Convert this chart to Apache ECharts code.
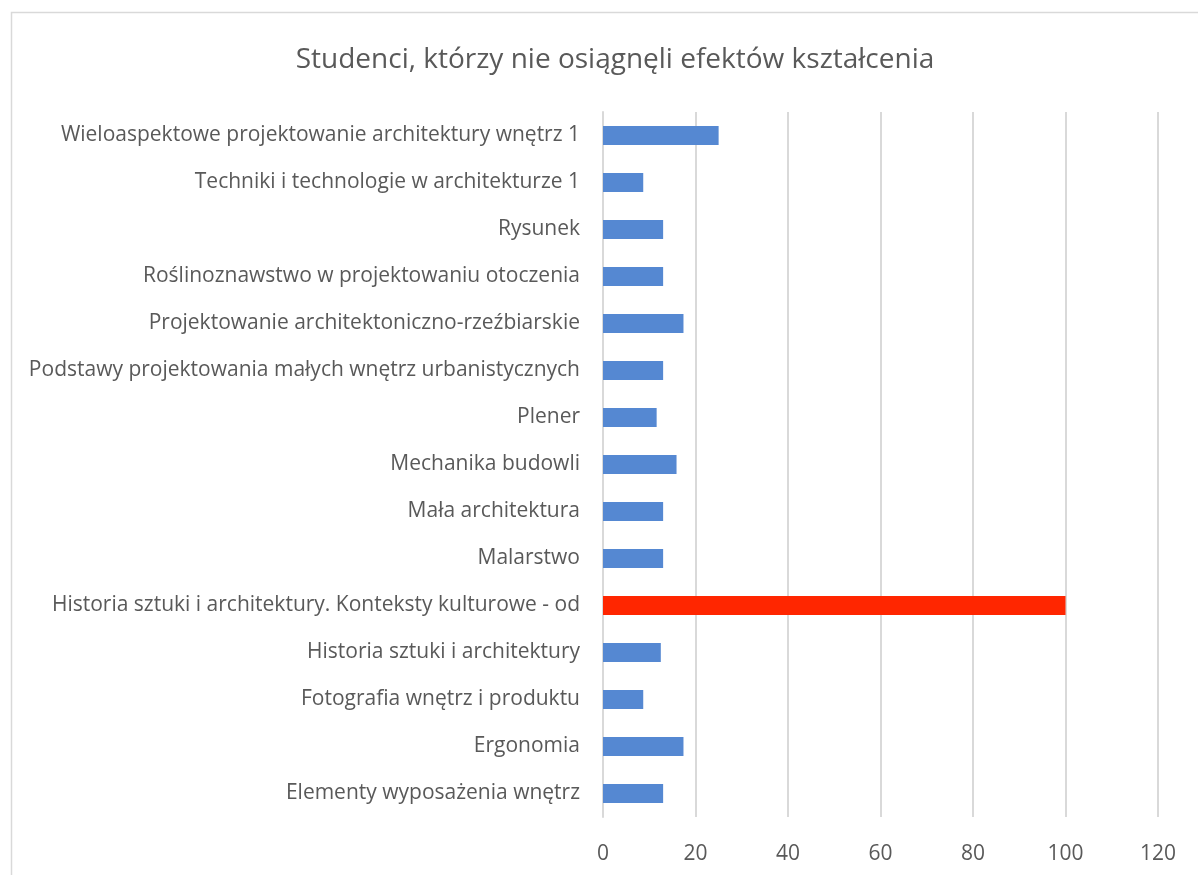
<!DOCTYPE html>
<html>
<head>
<meta charset="utf-8">
<script src="https://cdn.jsdelivr.net/npm/echarts@6/dist/echarts.min.js"></script>
<style>
  html, body { margin: 0; padding: 0; background: #fff; }
  #chart { width: 1198px; height: 875px; }
</style>
</head>
<body>
<div id="chart"></div>
<script>
// categories bottom -> top (as in the picture)
const categories = [
  "Elementy wyposażenia wnętrz",
  "Ergonomia",
  "Fotografia wnętrz i produktu",
  "Historia sztuki i architektury",
  "Historia sztuki i architektury. Konteksty kulturowe - od",
  "Malarstwo",
  "Mała architektura",
  "Mechanika budowli",
  "Plener",
  "Podstawy projektowania małych wnętrz urbanistycznych",
  "Projektowanie architektoniczno-rzeźbiarskie",
  "Roślinoznawstwo w projektowaniu otoczenia",
  "Rysunek",
  "Techniki i technologie w architekturze 1",
  "Wieloaspektowe projektowanie architektury wnętrz 1"
];
const values = [13, 17.4, 8.7, 12.5, 100, 13, 13, 15.9, 11.6, 13, 17.4, 13, 13, 8.7, 25];
const highlighted = ["Historia sztuki i architektury. Konteksty kulturowe - od"];
const xTicks = [0, 20, 40, 60, 80, 100, 120];

const textColor = "#595959";
const fontFamily = "Open Sans";

const myChart = echarts.init(document.getElementById("chart"));

const option = {
  backgroundColor: "#fff",
  animation: false,
  title: {
    text: "Studenci, którzy nie osiągnęli efektów kształcenia",
    left: 610,
    textAlign: "center",
    top: 41,
    textStyle: {
      fontFamily: fontFamily,
      fontWeight: "normal",
      fontSize: 28,
      color: textColor,
    },
  },
  graphic: [
    {
      // outer chart border (only top/left visible)
      type: "rect",
      left: 9,
      top: 10,
      shape: { width: 1400, height: 1000 },
      style: { fill: "none", stroke: "#d9d9d9", lineWidth: 1.5 },
      silent: true,
    },
  ],
  grid: {
    left: 603,
    right: 40,
    top: 112,
    bottom: 58,
    containLabel: false,
  },
  xAxis: {
    type: "value",
    min: xTicks[0],
    max: xTicks[xTicks.length - 1],
    interval: 20,
    axisLine: { show: false },
    axisTick: { show: false },
    splitLine: { lineStyle: { color: "#d9d9d9", width: 2 } },
    axisLabel: {
      margin: 27,
      fontFamily: fontFamily,
      fontSize: 21,
      color: textColor,
    },
  },
  yAxis: {
    type: "category",
    data: categories,
    axisLine: { show: true, lineStyle: { color: "#d9d9d9", width: 2 } },
    axisTick: { show: false },
    axisLabel: {
      margin: 23,
      padding: [4, 0, 0, 0],
      fontFamily: fontFamily,
      fontSize: 21,
      color: textColor,
    },
  },
  series: [
    {
      type: "bar",
      barWidth: 19,
      data: values.map((v, i) => ({
        value: v,
        itemStyle: {
          color: highlighted.includes(categories[i]) ? "#ff2600" : "#5588d2",
        },
      })),
    },
  ],
};

myChart.setOption(option);
</script>
</body>
</html>
